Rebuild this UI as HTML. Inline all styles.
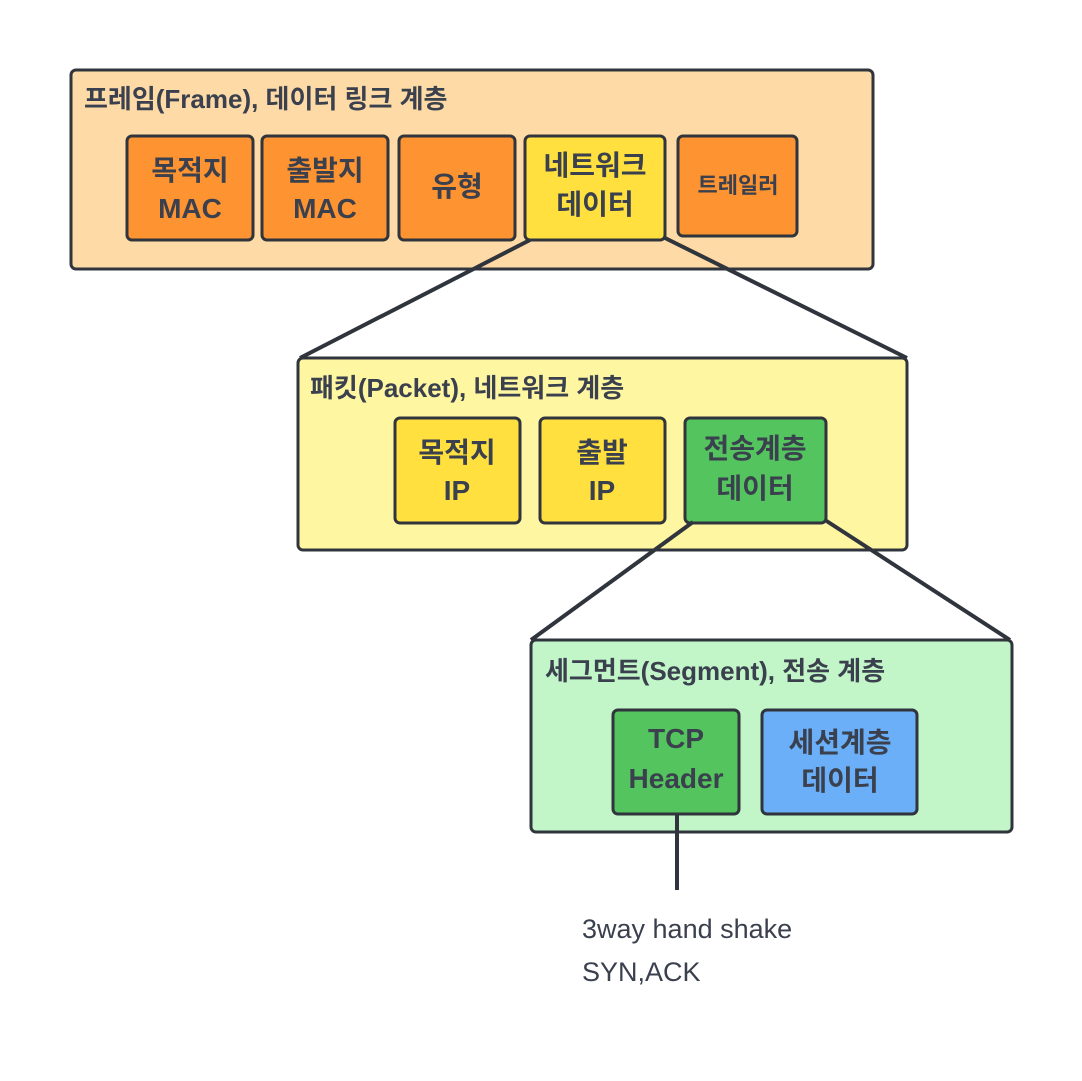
<!DOCTYPE html>
<html><head><meta charset="utf-8"><style>
body{margin:0;background:#fff;width:1082px;height:1076px;overflow:hidden}
svg text{font-family:"Liberation Sans","Noto Sans CJK KR",sans-serif;font-weight:bold;fill:#3a404d}
</style></head><body>
<svg width="1082" height="1076" viewBox="0 0 1082 1076" xmlns="http://www.w3.org/2000/svg">
<g stroke="#30343c" stroke-width="3">
<rect x="71" y="70" width="802" height="199" rx="5" fill="#fedba6"/>
<rect x="127" y="136" width="126" height="104" rx="5" fill="#fd9331"/>
<rect x="262" y="136" width="126" height="104" rx="5" fill="#fd9331"/>
<rect x="399" y="136" width="116" height="104" rx="5" fill="#fd9331"/>
<rect x="525" y="136" width="140" height="104" rx="5" fill="#ffe03f"/>
<rect x="678" y="136" width="119" height="100" rx="5" fill="#fd9331"/>
<rect x="298" y="358" width="609" height="192" rx="5" fill="#fff6a2"/>
<rect x="395" y="418" width="125" height="105" rx="5" fill="#ffe03f"/>
<rect x="540" y="418" width="125" height="105" rx="5" fill="#ffe03f"/>
<rect x="685" y="418" width="141" height="105" rx="5" fill="#54c45e"/>
<rect x="531" y="640" width="481" height="192" rx="5" fill="#c2f5c8"/>
<rect x="613" y="710" width="126" height="104" rx="5" fill="#54c45e"/>
<rect x="762" y="710" width="155" height="104" rx="5" fill="#6aaff8"/>
<line x1="530" y1="240" x2="300" y2="358" stroke-width="4"/>
<line x1="665" y1="238" x2="907" y2="358" stroke-width="4"/>
<line x1="693" y1="522" x2="531" y2="640" stroke-width="4"/>
<line x1="825" y1="520" x2="1010" y2="640" stroke-width="4"/>
<line x1="677" y1="814" x2="677" y2="890" stroke-width="4"/>
</g>
<text x="84" y="108" font-size="26">프레임(Frame), 데이터 링크 계층</text>
<text x="310" y="397" font-size="26">패킷(Packet), 네트워크 계층</text>
<text x="545" y="680" font-size="26">세그먼트(Segment), 전송 계층</text>
<g font-size="28" text-anchor="middle">
<text x="190" y="180">목적지</text><text x="190" y="218">MAC</text>
<text x="325" y="180">출발지</text><text x="325" y="218">MAC</text>
<text x="457" y="196">유형</text>
<text x="595" y="175">네트워크</text><text x="595" y="214">데이터</text>
<text x="738" y="193" font-size="22">트레일러</text>
<text x="457" y="462">목적지</text><text x="457" y="500">IP</text>
<text x="602" y="462">출발</text><text x="602" y="500">IP</text>
<text x="755" y="458">전송계층</text><text x="755" y="498">데이터</text>
<text x="676" y="748">TCP</text><text x="676" y="788">Header</text>
<text x="840" y="752">세션계층</text><text x="840" y="790">데이터</text>
</g>
<g font-size="27" style="font-weight:normal">
<text x="582" y="938" style="font-weight:normal" fill="#30343c">3way hand shake</text>
<text x="582" y="981" style="font-weight:normal" fill="#30343c">SYN,ACK</text>
</g>
</svg>
</body></html>
